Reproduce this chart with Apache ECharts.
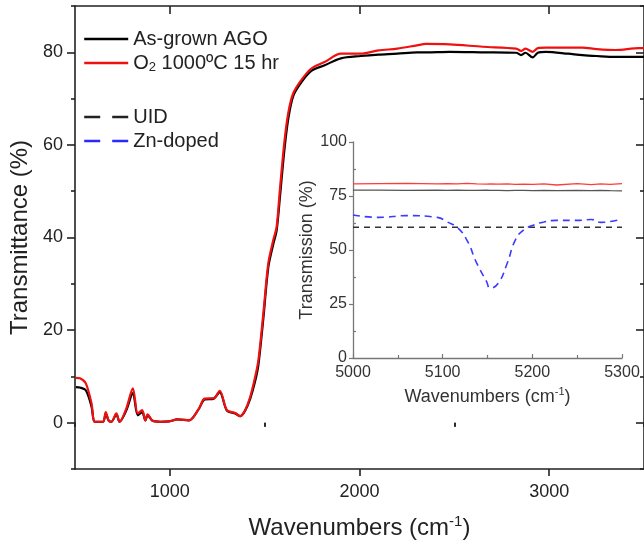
<!DOCTYPE html>
<html>
<head>
<meta charset="utf-8">
<script src="https://cdn.jsdelivr.net/npm/echarts@6/dist/echarts.min.js"></script>
<style>
  html, body { margin: 0; padding: 0; background: #fff; }
  #chart { width: 644px; height: 546px; }
</style>
</head>
<body>
<div id="chart"></div>
<script>
// FTIR transmittance spectra (main panel) and a zoom on the 5000-5300 cm-1 band (inset)
const wavenumbers = [505, 526, 557, 587, 605, 648, 662, 677, 692, 718, 735, 770, 805, 831, 854, 871, 883, 909, 950, 997,
  1040, 1101, 1153, 1183, 1232, 1263, 1301, 1345, 1371, 1397, 1424, 1450, 1467, 1493, 1519, 1545, 1563, 1580, 1603, 1624,
  1650, 1693, 1746, 1816, 1902, 2007, 2100, 2199, 2303, 2350, 2476, 2650, 2826, 2852, 2875, 2913, 2940, 2983, 3100, 3175,
  3250, 3349, 3474, 3500];
const asGrown = [7.7, 7.6, 7.0, 3.5, 0.2, 0.2, 2.0, 0.5, 0.2, 1.8, 0.2, 2.6, 6.4, 1.6, 2.3, 0.5, 1.6, 0.4, 0.2, 0.3,
  0.7, 0.5, 3.0, 5.0, 5.2, 6.6, 2.6, 2.0, 1.4, 2.6, 5.2, 9.0, 12.5, 22.5, 33.5, 38.5, 41.5, 48.5, 58.5, 65.5,
  70.5, 73.5, 76.0, 77.2, 78.7, 79.2, 79.5, 79.7, 80.0, 80.0, 80.1, 80.0, 79.9, 79.4, 79.9, 78.9, 79.9, 80.1, 79.7, 79.4,
  79.2, 79.0, 79.0, 79.0];
const annealed = [9.7, 9.6, 8.5, 4.2, 0.2, 0.2, 2.3, 0.5, 0.2, 2.0, 0.2, 3.0, 7.4, 2.0, 2.7, 0.5, 1.8, 0.4, 0.2, 0.3,
  0.7, 0.5, 3.0, 5.2, 5.3, 6.9, 2.7, 2.1, 1.4, 2.7, 5.6, 9.9, 13.5, 23.6, 34.4, 39.4, 42.3, 50.2, 60.3, 66.8,
  71.1, 74.0, 76.5, 77.9, 79.7, 79.7, 80.4, 80.8, 81.5, 81.8, 81.7, 81.2, 80.8, 80.3, 80.8, 80.1, 80.9, 81.0, 81.0, 81.0,
  80.7, 80.5, 80.9, 80.9];

const insetWavenumbers = [5000, 5029, 5060, 5094, 5105, 5116, 5127, 5138, 5149, 5153, 5162, 5172, 5181, 5190, 5201,
  5213, 5227, 5250, 5266, 5276, 5287, 5300];
const insetAsGrown = [77.7, 77.7, 77.6, 77.7, 77.6, 77.7, 77.6, 77.6, 77.7, 77.6, 77.6, 77.5, 77.6, 77.6, 77.5,
  77.6, 77.5, 77.6, 77.5, 77.6, 77.5, 77.4];
const insetAnnealed = [80.6, 80.7, 80.8, 80.6, 80.7, 80.6, 80.8, 80.6, 80.5, 80.6, 80.5, 80.6, 80.4, 80.5, 80.4,
  80.6, 80.1, 80.7, 80.3, 80.6, 80.4, 80.7];
const insetUID = [60.5, 60.5, 60.5, 60.5, 60.5, 60.5, 60.5, 60.5, 60.5, 60.5, 60.5, 60.5, 60.5, 60.5, 60.5,
  60.5, 60.5, 60.5, 60.5, 60.5, 60.5, 60.5];
const insetZnDoped = [66.2, 65.1, 65.9, 65.1, 63.0, 60.5, 54.6, 43.9, 35.4, 32.3, 34.6, 43.9, 54.6, 59.2, 61.5,
  63.0, 63.7, 63.7, 64.1, 62.8, 63.2, 64.2];

// tick positions
const mainXMajor = [1000, 2000, 3000];
const mainXMinor = [500, 1500, 2500, 3500];
const mainYMajor = [0, 20, 40, 60, 80];
const mainYMinor = [-10, 10, 30, 50, 70, 90];
const insetXMinor = [5050, 5150, 5250];
const insetYMinor = [12.5, 37.5, 62.5, 87.5];

const NAME_BLACK = 'As-grown AGO';
const NAME_RED = 'O₂ 1000ºC 15 hr';
const NAME_UID = 'UID';
const NAME_ZN = 'Zn-doped';

const FONT = '"Liberation Sans", Arial, Helvetica, sans-serif';
const AX = '#222';
const IAX = '#777';
const plain = v => String(v);

function pairs(xs, ys) { return xs.map((x, i) => [x, ys[i]]); }

function tickOnly(base, values, len, inside, color, width) {
  return Object.assign({
    type: 'value',
    axisLine: { show: false },
    axisTick: { show: true, inside: inside, length: len, customValues: values, lineStyle: { color: color, width: width } },
    axisLabel: { show: false },
    splitLine: { show: false }
  }, base);
}

const legendCommon = {
  orient: 'vertical', left: 78,
  itemWidth: 44, itemHeight: 14, itemGap: 4,
  itemStyle: { opacity: 0 },
  textStyle: { fontFamily: FONT, fontSize: 20, color: '#222' }
};

const option = {
  animation: false,
  backgroundColor: '#ffffff',
  textStyle: { fontFamily: FONT },
  grid: [
    { left: 75, top: 6, width: 574, height: 463 },
    { left: 353, top: 142, width: 269, height: 216 }
  ],
  legend: [
    Object.assign({}, legendCommon, {
      data: [
        { name: NAME_BLACK, lineStyle: { width: 2.4 } },
        { name: NAME_RED, lineStyle: { width: 2.4 } }
      ],
      top: 24,
      textStyle: { fontFamily: FONT, fontSize: 20, color: '#222',
        rich: {
          t: { fontFamily: FONT, fontSize: 20, color: '#222', lineHeight: 22 },
          s: { fontFamily: FONT, fontSize: 13, color: '#222', lineHeight: 22, verticalAlign: 'bottom' }
        } },
      formatter: n => n === NAME_RED ? '{t|O}{s|2}{t| 1000ºC 15 hr}' : '{t|' + n + '}'
    }),
    Object.assign({}, legendCommon, {
      data: [
        { name: NAME_UID, lineStyle: { width: 2.4, type: [16, 12], color: '#222' } },
        { name: NAME_ZN, lineStyle: { width: 2.4, type: [16, 12], color: '#2a2aff' } }
      ],
      top: 102
    })
  ],
  xAxis: [
    {
      type: 'value', gridIndex: 0, position: 'bottom', min: 500, max: 3500,
      axisLine: { show: true, onZero: false, lineStyle: { color: AX, width: 1.6 } },
      axisTick: { show: true, length: 7, customValues: mainXMajor, lineStyle: { color: AX, width: 1.6 } },
      axisLabel: { customValues: mainXMajor, formatter: plain, fontFamily: FONT, fontSize: 18, color: '#222', margin: 14 },
      splitLine: { show: false },
      name: '{t|Wavenumbers (cm}{s|-1}{t|)}', nameLocation: 'middle', nameGap: 45,
      nameTextStyle: { rich: {
        t: { fontFamily: FONT, fontSize: 24, color: '#222', lineHeight: 28 },
        s: { fontFamily: FONT, fontSize: 15, color: '#222', lineHeight: 28, verticalAlign: 'top' }
      } }
    },
    tickOnly({ gridIndex: 0, position: 'bottom', min: 500, max: 3500 }, mainXMinor, 4, false, AX, 1.6),
    {
      type: 'value', gridIndex: 0, position: 'top', min: 500, max: 3500,
      axisLine: { show: true, onZero: false, lineStyle: { color: AX, width: 1.6 } },
      axisTick: { show: true, inside: true, length: 8, customValues: mainXMajor, lineStyle: { color: AX, width: 1.6 } },
      axisLabel: { show: false }, splitLine: { show: false }
    },
    tickOnly({ gridIndex: 0, position: 'top', min: 500, max: 3500 }, mainXMinor, 4, true, AX, 1.6),
    {
      type: 'value', gridIndex: 1, position: 'bottom', min: 5000, max: 5300, interval: 100,
      axisLine: { show: true, onZero: false, lineStyle: { color: IAX, width: 1.3 } },
      axisTick: { show: true, inside: true, length: 4, lineStyle: { color: IAX, width: 1.2 } },
      axisLabel: { formatter: plain, fontFamily: FONT, fontSize: 16, color: '#333', margin: 7 },
      splitLine: { show: false },
      name: '{t|Wavenumbers (cm}{s|-1}{t|)}', nameLocation: 'middle', nameGap: 28,
      nameTextStyle: { rich: {
        t: { fontFamily: FONT, fontSize: 18, color: '#333', lineHeight: 22 },
        s: { fontFamily: FONT, fontSize: 11, color: '#333', lineHeight: 22, verticalAlign: 'top' }
      } }
    },
    tickOnly({ gridIndex: 1, position: 'bottom', min: 5000, max: 5300 }, insetXMinor, 3, true, IAX, 1.2)
  ],
  yAxis: [
    {
      type: 'value', gridIndex: 0, position: 'left', min: -10, max: 90,
      axisLine: { show: true, onZero: false, lineStyle: { color: AX, width: 1.6 } },
      axisTick: { show: true, length: 8, customValues: mainYMajor, lineStyle: { color: AX, width: 1.6 } },
      axisLabel: { customValues: mainYMajor, formatter: plain, fontFamily: FONT, fontSize: 18, color: '#222', margin: 12 },
      splitLine: { show: false },
      name: 'Transmittance (%)', nameLocation: 'middle', nameGap: 37,
      nameTextStyle: { fontFamily: FONT, fontSize: 24, color: '#222' }
    },
    tickOnly({ gridIndex: 0, position: 'left', min: -10, max: 90 }, mainYMinor, 4, false, AX, 1.6),
    {
      type: 'value', gridIndex: 0, position: 'right', min: -10, max: 90,
      axisLine: { show: true, onZero: false, lineStyle: { color: AX, width: 1.6 } },
      axisTick: { show: true, inside: true, length: 8, customValues: mainYMajor, lineStyle: { color: AX, width: 1.6 } },
      axisLabel: { show: false }, splitLine: { show: false }
    },
    tickOnly({ gridIndex: 0, position: 'right', min: -10, max: 90 }, mainYMinor, 4, true, AX, 1.6),
    {
      type: 'value', gridIndex: 1, position: 'left', min: 0, max: 100, interval: 25,
      axisLine: { show: true, onZero: false, lineStyle: { color: IAX, width: 1.3 } },
      axisTick: { show: true, length: 4, lineStyle: { color: IAX, width: 1.2 } },
      axisLabel: { formatter: plain, fontFamily: FONT, fontSize: 16, color: '#333', margin: 6 },
      splitLine: { show: false },
      name: 'Transmission (%)', nameLocation: 'middle', nameGap: 34,
      nameTextStyle: { fontFamily: FONT, fontSize: 18, color: '#333' }
    },
    tickOnly({ gridIndex: 1, position: 'left', min: 0, max: 100 }, insetYMinor, 3, true, IAX, 1.2)
  ],
  series: [
    { name: NAME_BLACK, type: 'line', xAxisIndex: 0, yAxisIndex: 0, data: pairs(wavenumbers, asGrown),
      symbol: 'none', smooth: 0.3, color: '#000', lineStyle: { color: '#000', width: 2.2 } },
    { name: NAME_RED, type: 'line', xAxisIndex: 0, yAxisIndex: 0, data: pairs(wavenumbers, annealed),
      symbol: 'none', smooth: 0.3, color: '#f01010', lineStyle: { color: '#f01010', width: 2.2 } },
    { name: NAME_BLACK, type: 'line', xAxisIndex: 4, yAxisIndex: 4, data: pairs(insetWavenumbers, insetAsGrown),
      symbol: 'none', color: '#000', lineStyle: { color: '#555', width: 1.3 } },
    { name: NAME_RED, type: 'line', xAxisIndex: 4, yAxisIndex: 4, data: pairs(insetWavenumbers, insetAnnealed),
      symbol: 'none', color: '#f01010', lineStyle: { color: '#ff3b3b', width: 1.3 } },
    { name: NAME_UID, type: 'line', xAxisIndex: 4, yAxisIndex: 4, data: pairs(insetWavenumbers, insetUID),
      symbol: 'none', color: '#222', lineStyle: { color: '#333', width: 1.4, type: [6, 5] } },
    { name: NAME_ZN, type: 'line', xAxisIndex: 4, yAxisIndex: 4, data: pairs(insetWavenumbers, insetZnDoped),
      symbol: 'none', smooth: 0.5, color: '#2a2aff', lineStyle: { color: '#3b3bff', width: 1.6, type: [7, 5] } }
  ]
};

const chart = echarts.init(document.getElementById('chart'), null, { renderer: 'canvas' });
chart.setOption(option);
</script>
</body>
</html>
